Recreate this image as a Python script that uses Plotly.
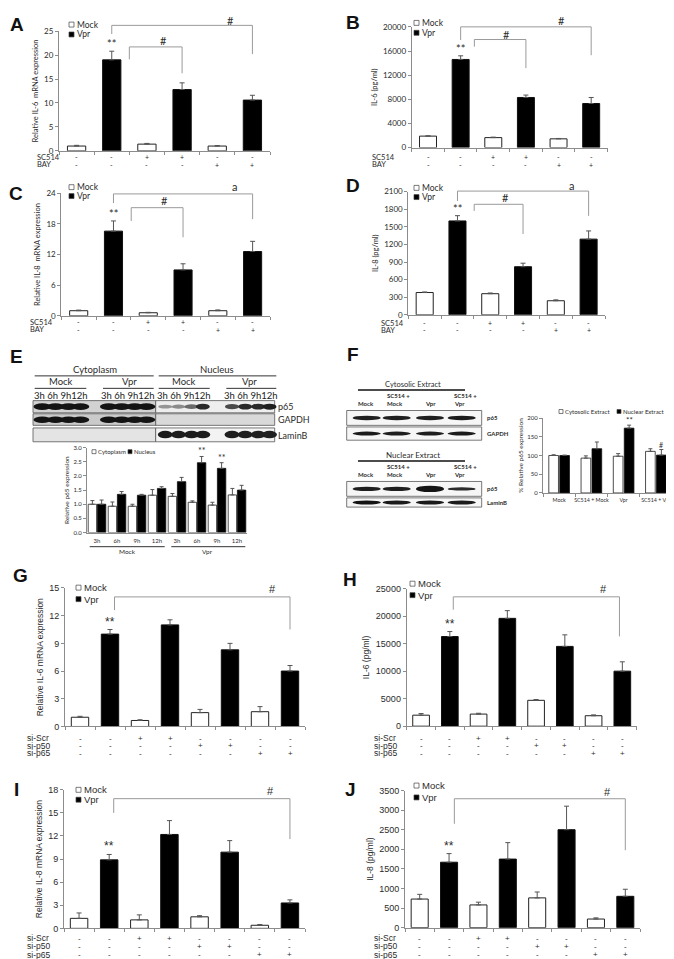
import plotly.graph_objects as go

W, H = 674, 959
CAL = "Lato, 'Open Sans', sans-serif"
ARI = "'Liberation Sans', Arial, sans-serif"
TXT = "#2b2b2b"
AXC = "#8c8c8c"
BRK = "#9a9a9a"

# ---------------- data ----------------
# A: relative IL-6 mRNA (SC514 / BAY)
A_mock = [1.0, 1.4, 1.0]
A_mock_err = [0.15, 0.15, 0.1]
A_vpr = [19.0, 12.8, 10.6]
A_vpr_err = [1.8, 1.4, 1.0]
# B: IL-6 (pg/ml)
B_mock = [1900, 1650, 1450]
B_mock_err = [50, 80, 60]
B_vpr = [14600, 8300, 7300]
B_vpr_err = [600, 400, 1000]
# C: relative IL-8 mRNA
C_mock = [1.0, 0.6, 1.0]
C_mock_err = [0.12, 0.08, 0.15]
C_vpr = [16.6, 9.0, 12.6]
C_vpr_err = [2.0, 1.2, 2.0]
# D: IL-8 (pg/ml)
D_mock = [380, 360, 240]
D_mock_err = [10, 12, 15]
D_vpr = [1600, 820, 1290]
D_vpr_err = [90, 60, 140]
SC514_signs = ["-", "-", "+", "+", "-", "-"]
BAY_signs = ["-", "-", "-", "-", "+", "+"]

# E: relative p65 expression
E_times = ["3h", "6h", "9h", "12h", "3h", "6h", "9h", "12h"]
E_cyto = [1.0, 0.93, 0.93, 1.32, 1.28, 1.07, 0.97, 1.33]
E_cyto_err = [0.13, 0.15, 0.07, 0.2, 0.1, 0.05, 0.1, 0.23]
E_nuc = [1.0, 1.35, 1.32, 1.56, 1.8, 2.47, 2.27, 1.5]
E_nuc_err = [0.15, 0.1, 0.03, 0.06, 0.15, 0.22, 0.2, 0.17]
E_nuc_marks = ["", "", "", "", "", "**", "**", ""]

# F: % relative p65 expression
F_cats = ["Mock", "SC514 + Mock", "Vpr", "SC514 + Vpr"]
F_cyto = [100, 93, 98, 111]
F_cyto_err = [2, 6, 7, 7]
F_nuc = [100, 118, 173, 101]
F_nuc_err = [1, 18, 8, 15]
F_nuc_marks = ["", "", "**", "#"]

# G-J: siRNA
G_mock = [1.0, 0.65, 1.5, 1.6]
G_mock_err = [0.1, 0.08, 0.35, 0.55]
G_vpr = [10.0, 11.0, 8.3, 6.0]
G_vpr_err = [0.5, 0.55, 0.7, 0.6]
H_mock = [2000, 2200, 4700, 1900]
H_mock_err = [300, 150, 150, 150]
H_vpr = [16300, 19600, 14500, 10000]
H_vpr_err = [900, 1400, 2100, 1700]
I_mock = [1.3, 1.1, 1.5, 0.4]
I_mock_err = [0.7, 0.65, 0.15, 0.1]
I_vpr = [8.9, 12.2, 9.9, 3.3]
I_vpr_err = [0.7, 1.8, 1.5, 0.4]
J_mock = [730, 580, 760, 220]
J_mock_err = [120, 70, 150, 30]
J_vpr = [1670, 1750, 2500, 800]
J_vpr_err = [220, 420, 600, 180]
siScr_signs = ["-", "-", "+", "+", "-", "-", "-", "-"]
siP50_signs = ["-", "-", "-", "-", "+", "+", "-", "-"]
siP65_signs = ["-", "-", "-", "-", "-", "-", "+", "+"]

# blot band intensities (0..1)
E_p65_levels = [[0.95] * 4, [0.95] * 4, [0.35, 0.4, 0.55, 0.85], [0.7, 0.85, 0.85, 0.9]]
E_gapdh_levels = [[0.95] * 4, [0.95] * 4, [0] * 4, [0] * 4]
E_lamin_levels = [[0] * 4, [0] * 4, [0.92] * 4, [0.9] * 4]
F_cyto_p65_levels = [0.9, 0.9, 0.9, 0.92]
F_gapdh_levels = [0.92, 0.9, 0.9, 0.92]
F_nuc_p65_levels = [0.9, 0.9, 0.95, 0.85]
F_lamin_levels = [0.95, 0.92, 0.92, 0.92]

# ---------------- helpers ----------------
fig = go.Figure()
lay = dict(width=W, height=H, margin=dict(l=0, r=0, t=0, b=0),
           paper_bgcolor="white", plot_bgcolor="rgba(0,0,0,0)",
           barmode="overlay", showlegend=False)
ann = []
shp = []
_count = [0]


def X(p):
    return p / W


def Y(p):
    return 1 - p / H


def text(x, y, s, size, family=CAL, anchor="center", color=TXT, bold=False):
    if bold:
        s = "<b>" + s + "</b>"
    ann.append(dict(xref="paper", yref="paper", x=X(x), y=Y(y), text=s, showarrow=False,
                    xanchor=anchor, yanchor="middle", align="left", borderpad=0,
                    font=dict(size=size, family=family, color=color)))


def hline(x0, x1, y, color="#222", width=1):
    shp.append(dict(type="line", xref="paper", yref="paper", x0=X(x0), x1=X(x1),
                    y0=Y(y), y1=Y(y), line=dict(color=color, width=width)))


def rect(x0, y0, x1, y1, fill, line="#555", lw=0.8):
    shp.append(dict(type="rect", xref="paper", yref="paper", x0=X(x0), x1=X(x1),
                    y0=Y(y1), y1=Y(y0), fillcolor=fill, line=dict(color=line, width=lw)))


def band(xc, yc, w, h, level):
    if level <= 0:
        return
    g = int(225 - 215 * level)
    shp.append(dict(type="circle", xref="paper", yref="paper", x0=X(xc - w / 2), x1=X(xc + w / 2),
                    y0=Y(yc + h / 2), y1=Y(yc - h / 2), fillcolor=f"rgb({g},{g},{g})",
                    line=dict(width=0)))


def square(x, y, filled, s=5):
    shp.append(dict(type="rect", xref="paper", yref="paper", x0=X(x), x1=X(x + s),
                    y0=Y(y + s / 2), y1=Y(y - s / 2), fillcolor="black" if filled else "white",
                    line=dict(color="#444", width=0.7)))


def axes(xpx, ypx, xrange, yrange, ytickvals, ytitle, family, tsize, titlesize,
         ytickformat=None, xticks=None, xticktext=None, xbounds=True, standoff=4, xtsize=None):
    _count[0] += 1
    i = _count[0]
    s = "" if i == 1 else str(i)
    xid, yid = "x" + s, "y" + s
    xa = dict(domain=[X(xpx[0]), X(xpx[1])], range=xrange, anchor=yid, showline=True,
              linecolor=AXC, linewidth=1, showgrid=False, zeroline=False, fixedrange=True)
    n = int(round(xrange[1] - xrange[0]))
    bounds = [xrange[0] + k for k in range(n + 1)]
    if xticks is None:
        xa.update(tickmode="array", tickvals=bounds, ticks="outside", ticklen=3,
                  tickcolor=AXC, showticklabels=False)
    else:
        xa.update(tickmode="array", tickvals=xticks, ticktext=xticktext, ticks="",
                  ticklabelstandoff=2,
                  tickfont=dict(size=xtsize or tsize, family=family, color=TXT))
        if xbounds:
            xa["minor"] = dict(tickmode="array", tickvals=bounds, ticks="outside",
                               ticklen=3, tickcolor=AXC)
    ya = dict(domain=[Y(ypx[0]), Y(ypx[1])], range=yrange, anchor=xid, showline=True,
              linecolor=AXC, linewidth=1, showgrid=False, zeroline=False, ticks="outside",
              ticklen=3, tickcolor=AXC, tickmode="array", tickvals=ytickvals,
              tickfont=dict(size=tsize, family=family, color=TXT), fixedrange=True,
              title=dict(text=ytitle, font=dict(size=titlesize, family=family, color=TXT),
                         standoff=standoff))
    if ytickformat:
        ya["tickformat"] = ytickformat
    lay["xaxis" + s] = xa
    lay["yaxis" + s] = ya
    return xid, yid


def err(e, w=2.5):
    return dict(type="data", array=e, arrayminus=[0] * len(e), symmetric=False,
                color="#555", thickness=1, width=w)


def bar_panel(letter, letter_xy, xpx, ypx, ymax, yticks, ytitle, mock, mock_err, vpr, vpr_err,
              rows, row_names, row_py, row_label_x, legend, brackets, marks, family,
              tsize, titlesize, lsize, ssize, bw, star_size, mark_size, standoff=4):
    n = len(mock) + len(vpr)
    xid, yid = axes(xpx, ypx, [-0.5, n - 0.5], [0, ymax], yticks, ytitle, family, tsize,
                    titlesize, ytickformat="d", standoff=standoff)
    fig.add_trace(go.Bar(x=list(range(0, n, 2)), y=mock, width=bw, name="Mock",
                         marker=dict(color="white", line=dict(color="#222", width=1)),
                         error_y=err(mock_err), xaxis=xid, yaxis=yid))
    fig.add_trace(go.Bar(x=list(range(1, n, 2)), y=vpr, width=bw, name="Vpr",
                         marker=dict(color="black", line=dict(color="#111", width=1)),
                         error_y=err(vpr_err), xaxis=xid, yaxis=yid))
    # significance stars above the first Vpr bar
    ann.append(dict(xref=xid, yref=yid, x=1, y=vpr[0] + vpr_err[0], text="**",
                    showarrow=False, yanchor="bottom", yshift=-1,
                    font=dict(size=star_size, family=family, color=TXT)))
    # brackets
    yd = yid + " domain"
    for (xl, xr, yt, ylb, yrb) in brackets:
        for (a0, a1, b0, b1) in [(xl, xr, yt, yt), (xl, xl, yt, ylb), (xr, xr, yt, yrb)]:
            shp.append(dict(type="line", xref=xid, yref=yd, x0=a0, x1=a1, y0=b0 / ymax,
                            y1=b1 / ymax, line=dict(color=BRK, width=1)))
    for (mx, my, mt) in marks:
        ann.append(dict(xref=xid, yref=yd, x=mx, y=my / ymax, text=mt, showarrow=False,
                        yanchor="middle", font=dict(size=mark_size, family=family, color=TXT)))
    # treatment rows
    for signs, name, rpy in zip(rows, row_names, row_py):
        text(row_label_x, rpy, name, ssize + 0.5, family=family, anchor="left")
        for k, sg in enumerate(signs):
            ann.append(dict(xref=xid, yref="paper", x=k, y=Y(rpy), text=sg, showarrow=False,
                            yanchor="middle", borderpad=0,
                            font=dict(size=ssize, family=family, color=TXT)))
    # legend
    lx, ly1, ly2 = legend
    square(lx, ly1, False)
    square(lx, ly2, True)
    text(lx + 7, ly1, "Mock", lsize, family=family, anchor="left")
    text(lx + 7, ly2, "Vpr", lsize, family=family, anchor="left")
    text(letter_xy[0], letter_xy[1], letter, 19, family=ARI, bold=True, color="#111")


# ---------------- panels A-D ----------------
bar_panel("A", (9, 12), (51, 262), (139.3, 18.3), 25, [0, 5, 10, 15, 20, 25],
          "Relative IL-6  mRNA expression", A_mock, A_mock_err, A_vpr, A_vpr_err,
          [SC514_signs, BAY_signs], ["SC514", "BAY"], [145.7, 153.3], 28, (61, 11.7, 21.7),
          [(1, 5, 26.2, 24.4, 20.2), (1.5, 3, 21.7, 19.1, 16.2)],
          [(4.38, 27.3, "#"), (2.46, 23.1, "#")], CAL, 8, 7.5, 8.5, 7, 0.52, 11, 11)
bar_panel("B", (345, 10), (403.7, 599.5), (136, 14), 20000,
          [0, 4000, 8000, 12000, 16000, 20000], "IL-6 (pg/ml)", B_mock, B_mock_err,
          B_vpr, B_vpr_err, [SC514_signs, BAY_signs], ["SC514", "BAY"], [145.7, 153.3],
          363, (406, 10, 20),
          [(1, 5, 20000, 17820, 15300), (1.42, 3, 17900, 16720, 13160)],
          [(4.1, 21100, "#"), (2.39, 18730, "#")], CAL, 8, 7.5, 8.5, 7, 0.52, 11, 11)
bar_panel("C", (8, 182), (53.3, 262), (306, 182.3), 24, [0, 6, 12, 18, 24],
          "Relative IL-8  mRNA expression", C_mock, C_mock_err, C_vpr, C_vpr_err,
          [SC514_signs, BAY_signs], ["SC514", "BAY"], [312.7, 320], 21, (61, 176, 185),
          [(1, 5, 23.9, 22.1, 18.96), (1.51, 3, 21.2, 18.6, 15.4)],
          [(4.49, 25.4, "a"), (2.47, 22.7, "#")], CAL, 8, 7.5, 8.5, 7, 0.52, 11, 11)
bar_panel("D", (345, 174), (400.3, 597), (305, 180.5), 2100,
          [0, 300, 600, 900, 1200, 1500, 1800, 2100], "IL-8 (pg/ml)", D_mock, D_mock_err,
          D_vpr, D_vpr_err, [SC514_signs, BAY_signs], ["SC514", "BAY"], [313.3, 320.7],
          372, (406, 176.7, 186),
          [(1, 5, 2109, 1940, 1687), (1.51, 3, 1884, 1771, 1378)],
          [(4.48, 2210, "a"), (2.48, 1996, "#")], CAL, 8, 7.5, 8.5, 7, 0.52, 11, 11)

# ---------------- panel E ----------------
text(8, 347, "E", 19, family=ARI, bold=True, color="#111")
text(86.7, 360, "Cytoplasm", 9.5)
text(209.3, 360, "Nucleus", 9.5)
hline(26.7, 145.7, 366.7, "#333")
hline(150.7, 268.3, 366.7, "#333")
for cx, lab in [(53.3, "Mock"), (121.7, "Vpr"), (176, "Mock"), (241.7, "Vpr")]:
    text(cx, 372.7, lab, 9.5)
for a, b in [(26.7, 78.3), (95, 145.7), (150.7, 201.7), (218.3, 268.3)]:
    hline(a, b, 379.3, "#333")
E_lanes = [[34.3, 47.5, 60.5, 72.5], [100.7, 113.7, 126.7, 138.5],
           [157.3, 170.5, 183.5, 194.8], [224, 237.2, 250.2, 261.5]]
for lanes in E_lanes:
    text((lanes[0] + lanes[-1]) / 2, 386.7, "3h 6h 9h12h", 9.5, color="#222")
# blot rows
rect(25, 391.7, 147.7, 404, "#d2d2d2")
rect(147.7, 391.7, 266.7, 404, "#eeeeee")
rect(25, 405, 147.7, 416.7, "#cacaca")
rect(147.7, 405, 266.7, 416.7, "#d9d9d9")
rect(25, 419.3, 147.7, 433.3, "#e4e4e4")
rect(147.7, 419.3, 266.7, 433.3, "#f3f3f3")
for g, lanes in enumerate(E_lanes):
    for k, xc in enumerate(lanes):
        lv = E_p65_levels[g][k]
        band(xc, 397.8, 17.5 if lv > 0.9 else 14, 7 if lv > 0.9 else 2.5 + 4 * lv, lv)
        band(xc, 411, 17.5, 6.5, E_gapdh_levels[g][k])
        band(xc, 426, 15, 7.5, E_lamin_levels[g][k])
text(269, 398, "p65", 9, anchor="left")
text(269, 411, "GAPDH", 9, anchor="left")
text(269, 426.5, "LaminB", 9, anchor="left")

ex, ey = axes((79, 239), (525, 439.3), [-0.5, 7.5], [0, 3],
              [0, 0.5, 1, 1.5, 2, 2.5, 3], "Relative p65 expression", CAL, 6, 6.5,
              ytickformat=".1f", xticks=list(range(8)), xticktext=E_times, xbounds=False,
              standoff=3)
E_w, E_off_c, E_off_n = 0.42, -0.44, 0.02
fig.add_trace(go.Bar(x=list(range(8)), y=E_cyto, width=E_w, offset=E_off_c, name="Cytoplasm",
                     marker=dict(color="white", line=dict(color="#222", width=0.8)),
                     error_y=err(E_cyto_err, 2), xaxis=ex, yaxis=ey))
fig.add_trace(go.Bar(x=list(range(8)), y=E_nuc, width=E_w, offset=E_off_n, name="Nucleus",
                     marker=dict(color="black", line=dict(color="#111", width=0.8)),
                     error_y=err(E_nuc_err, 2), xaxis=ex, yaxis=ey))
for k, m in enumerate(E_nuc_marks):
    if m:
        ann.append(dict(xref=ex, yref=ey, x=k + E_off_n + E_w / 2, y=E_nuc[k] + E_nuc_err[k],
                        text=m, showarrow=False, yanchor="bottom", yshift=-2,
                        font=dict(size=9, family=CAL, color=TXT)))
square(84, 443.3, False, 4)
text(89, 443.3, "Cytoplasm", 6, anchor="left")
square(120, 443.3, True, 4)
text(125, 443.3, "Nucleus", 6, anchor="left")
hline(81.7, 156.7, 539.3, "#333")
hline(163.3, 237.3, 539.3, "#333")
text(119, 544.5, "Mock", 6.5)
text(200, 544.5, "Vpr", 6.5)

# ---------------- panel F ----------------
text(345.3, 345, "F", 19, family=ARI, bold=True, color="#111")
F_lanes = [358.7, 388.7, 422, 453.7]
for top, title, lab1, lab2, rows in [
        (375, "Cytosolic Extract", "p65", "GAPDH", (F_cyto_p65_levels, F_gapdh_levels)),
        (446.7, "Nuclear Extract", "p65", "LaminB", (F_nuc_p65_levels, F_lamin_levels))]:
    text(405, top, title, 7.5 if top < 400 else 8)
    hline(350, 457, top + 6, "#111", 1.5)
    h1, h2 = top + 11.7, top + 20
    text(357.7, h2, "Mock", 6, bold=True)
    text(377.7, h1, "SC514 +", 6, anchor="left", bold=True)
    text(377.7, h2, "Mock", 6, anchor="left", bold=True)
    text(422, h2, "Vpr", 6, bold=True)
    text(445, h1, "SC514 +", 6, anchor="left", bold=True)
    text(445, h2, "Vpr", 6, anchor="left", bold=True)
    r1a, r1b = top + 26.7, top + 41.7
    r2a, r2b = top + 43.3, top + (56.7 if top < 400 else 52.6)
    rect(338.7, r1a, 473.7, r1b, "#f6f6f6")
    rect(338.7, r2a, 473.7, r2b, "#f6f6f6")
    text(478, (r1a + r1b) / 2, lab1, 6, anchor="left", bold=True)
    text(478, (r2a + r2b) / 2, lab2, 6, anchor="left", bold=True)
    for k, xc in enumerate(F_lanes):
        lv1 = rows[0][k]
        hh = 4.5
        if top > 400:
            hh = [4.5, 4.5, 6.5, 3.5][k]
        band(xc, (r1a + r1b) / 2, 28, hh, lv1)
        band(xc, (r2a + r2b) / 2, 28, 4, rows[1][k])

fx, fy = axes((535, 664), (485, 409.3), [-0.5, 3.5], [0, 200], [0, 50, 100, 150, 200],
              "% Relative p65 expression", CAL, 6, 6.5, xticks=[0, 1, 2, 3],
              xticktext=F_cats, xbounds=True, standoff=3, xtsize=5.3)
F_w, F_off_c, F_off_n = 0.3, -0.32, 0.02
fig.add_trace(go.Bar(x=[0, 1, 2, 3], y=F_cyto, width=F_w, offset=F_off_c,
                     name="Cytosolic Extract",
                     marker=dict(color="white", line=dict(color="#222", width=0.8)),
                     error_y=err(F_cyto_err, 2), xaxis=fx, yaxis=fy))
fig.add_trace(go.Bar(x=[0, 1, 2, 3], y=F_nuc, width=F_w, offset=F_off_n,
                     name="Nuclear Extract",
                     marker=dict(color="black", line=dict(color="#111", width=0.8)),
                     error_y=err(F_nuc_err, 2), xaxis=fx, yaxis=fy))
for k, m in enumerate(F_nuc_marks):
    if m:
        ann.append(dict(xref=fx, yref=fy, x=k + F_off_n + F_w / 2, y=F_nuc[k] + F_nuc_err[k],
                        text=m, showarrow=False, yanchor="bottom", yshift=-2,
                        font=dict(size=8 if m == "**" else 7, family=CAL, color=TXT)))
square(551, 402.7, False, 4)
text(556, 402.7, "Cytosolic Extract", 6, anchor="left")
square(609, 402.7, True, 4)
text(614, 402.7, "Nuclear Extract", 6, anchor="left")

# ---------------- panels G-J ----------------
si_rows = [siScr_signs, siP50_signs, siP65_signs]
si_names = ["si-Scr", "si-p50", "si-p65"]
bar_panel("G", (12, 568), (57, 297), (721, 581), 15, [0, 3, 6, 9, 12, 15],
          "Relative IL-6 mRNA expression", G_mock, G_mock_err, G_vpr, G_vpr_err,
          si_rows, si_names, [732.7, 740.7, 748.3], 18, (68, 580.7, 592.3),
          [(1.15, 7, 14.03, 12.6, 10.5)], [(6.41, 14.9, "#")], ARI, 9, 8.5, 9.5, 8,
          0.58, 12, 11)
bar_panel("H", (342, 572), (398.7, 628.7), (720.7, 581.7), 25000,
          [0, 5000, 10000, 15000, 20000, 25000], "IL-6 (pg/ml)", H_mock, H_mock_err,
          H_vpr, H_vpr_err, si_rows, si_names, [732.7, 740.7, 748.3], 365,
          (402, 576.7, 588.3),
          [(1.12, 6.9, 23510, 21170, 16320)], [(6.34, 25000, "#")], ARI, 9, 8.5, 9.5, 8,
          0.58, 12, 11)
bar_panel("I", (8, 785), (56, 297), (925, 785), 18, [0, 3, 6, 9, 12, 15, 18],
          "Relative IL-8 mRNA expression", I_mock, I_mock_err, I_vpr, I_vpr_err,
          si_rows, si_names, [935, 943.3, 951.7], 18, (68, 785, 795),
          [(1.15, 7, 16.85, 15.0, 11.6)], [(6.35, 17.8, "#")], ARI, 9, 8.5, 9.5, 8,
          0.58, 12, 11)
bar_panel("J", (342, 785), (397, 632), (924.3, 785.7), 3500,
          [0, 500, 1000, 1500, 2000, 2500, 3000, 3500], "IL-8 (pg/ml)", J_mock, J_mock_err,
          J_vpr, J_vpr_err, si_rows, si_names, [935, 943.3, 951.7], 365,
          (406, 780.7, 792.7),
          [(1.18, 7, 3290, 2651, 1977)], [(6.39, 3469, "#")], ARI, 9, 8.5, 9.5, 8,
          0.58, 12, 11)

lay["annotations"] = ann
lay["shapes"] = shp
fig.update_layout(**lay)
fig.write_html("out.html")
